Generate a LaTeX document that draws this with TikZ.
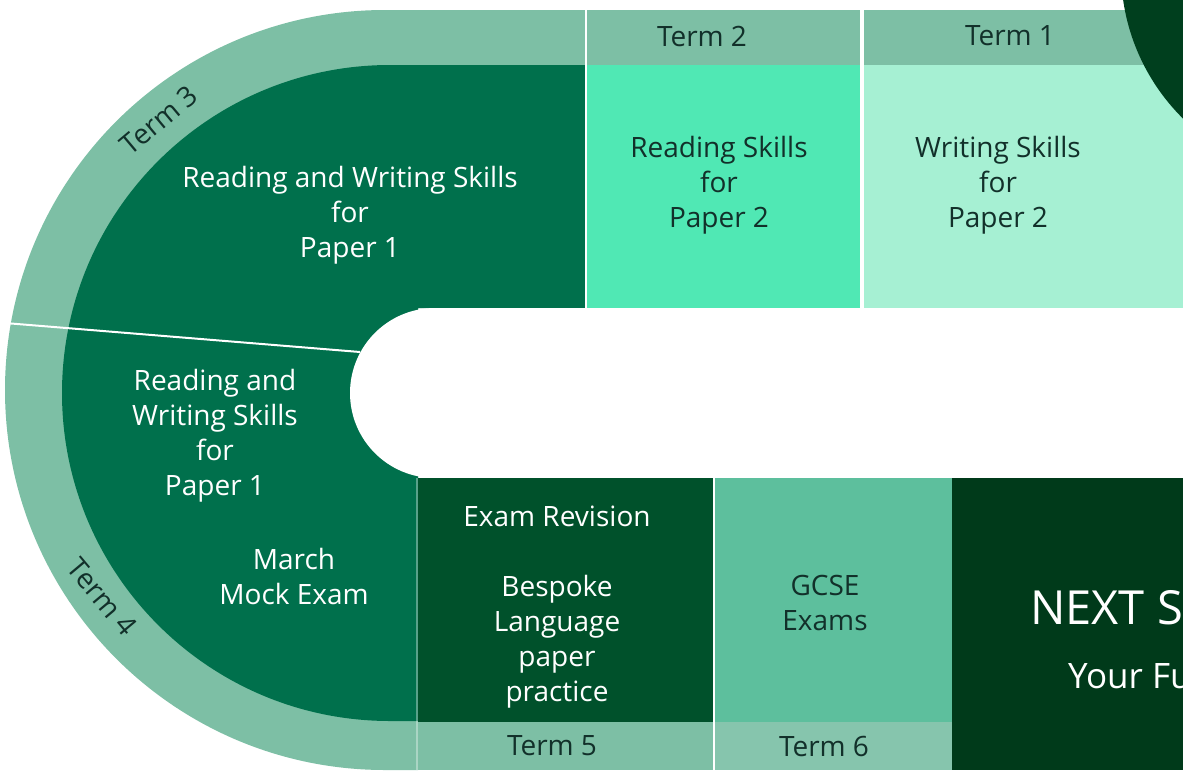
\documentclass[tikz,border=0pt]{standalone}
\usepackage{fontspec}
\setmainfont{Open Sans}
\definecolor{ring}{HTML}{7DBFA5}
\definecolor{deep}{HTML}{00704C}
\definecolor{mint}{HTML}{50E8B4}
\definecolor{pale}{HTML}{A6F0D3}
\definecolor{rev}{HTML}{00512B}
\definecolor{gcse}{HTML}{5DBF9D}
\definecolor{gcsestrip}{HTML}{86C5AD}
\definecolor{nextc}{HTML}{003A1A}
\definecolor{circ}{HTML}{003F1E}
\definecolor{ink}{HTML}{12302A}
\begin{document}
\begin{tikzpicture}[x=1pt,y=-1pt,
  txt/.style={align=center,font=\fontsize{28}{35}\selectfont,inner sep=0pt},
  light/.style={txt,text=white},
  darkt/.style={txt,text=ink},
  sep/.style={draw=white,line width=2.5pt}]
\useasboundingbox (0,0) rectangle (1183,772);
\clip (0,0) rectangle (1183,772);
% left ring and dark region
\fill[ring] (585,10) -- (385,10) arc[start angle=270,end angle=90,radius=380] -- (418,770) -- (418,308) -- (585,308) -- cycle;
\fill[deep] (585,65) -- (390,65) arc[start angle=270,end angle=90,radius=328] -- (418,721) -- (418,308) -- (585,308) -- cycle;
% hole
\fill[white] (435,308) -- (1183,308) -- (1183,478) -- (435,478) arc[start angle=90,end angle=270,radius=85] -- cycle;
% top boxes
\fill[ring] (587,10) rectangle (860,65);
\fill[mint] (587,65) rectangle (860,308);
\fill[ring] (864,10) rectangle (1183,65);
\fill[pale] (864,65) rectangle (1183,308);
% bottom boxes
\fill[rev] (418,478) rectangle (713,722);
\fill[ring] (418,722) rectangle (713,770);
\fill[gcse] (715,478) rectangle (952,722);
\fill[gcsestrip] (715,722) rectangle (952,770);
\fill[nextc] (952,478) rectangle (1183,770);
% top right circle
\fill[circ] (1330,-30) circle[radius=209];
% separators
\coordinate (d1) at (5,323);
\coordinate (d2) at (360,352);
\draw[sep,line width=2pt] (d1) -- (d2);
\coordinate (s1a) at (586,10); \coordinate (s1b) at (586,308);
\coordinate (s2a) at (862,10); \coordinate (s2b) at (862,308);
\coordinate (s3a) at (714,478); \coordinate (s3b) at (714,770);
\coordinate (s4a) at (417,478); \coordinate (s4b) at (417,770);
\draw[sep] (s1a) -- (s1b);
\draw[sep] (s2a) -- (s2b);
\draw[sep] (s3a) -- (s3b);
\draw[draw=white,opacity=0.35,line width=2pt] (s4a) -- (s4b);
% texts
\node[darkt,rotate=40] (term3) at (159,120) {Term 3};
\node[darkt,rotate=-50] (term4) at (102,597) {Term 4};
\node[light] (t3) at (350,215) {Reading and Writing Skills\\for\\Paper 1};
\node[light] (t4) at (215,436) {Reading and\\Writing Skills\\for\\Paper 1};
\node[light] (mock) at (294,576) {March\\Mock Exam};
\node[darkt] (term2) at (702,36) {Term 2};
\node[darkt] (term1) at (1010,36) {Term 1};
\node[darkt] (t2) at (719,185) {Reading Skills\\for\\Paper 2};
\node[darkt] (t1) at (998,185) {Writing Skills\\for\\Paper 2};
\node[light] (t5) at (557,607) {Exam Revision\\[35pt]Bespoke\\Language\\paper\\practice};
\node[darkt] (t6) at (825,603) {GCSE\\Exams};
\node[darkt] (term5) at (552,746) {Term 5};
\node[darkt] (term6) at (824,746) {Term 6};
\node[light,anchor=base west,font=\fontsize{47}{50}\selectfont] (next) at (1030,624) {NEXT S};
\node[light,anchor=base west,font=\fontsize{35}{40}\selectfont] (fut) at (1068,688) {Your Fu};
\end{tikzpicture}
\end{document}
